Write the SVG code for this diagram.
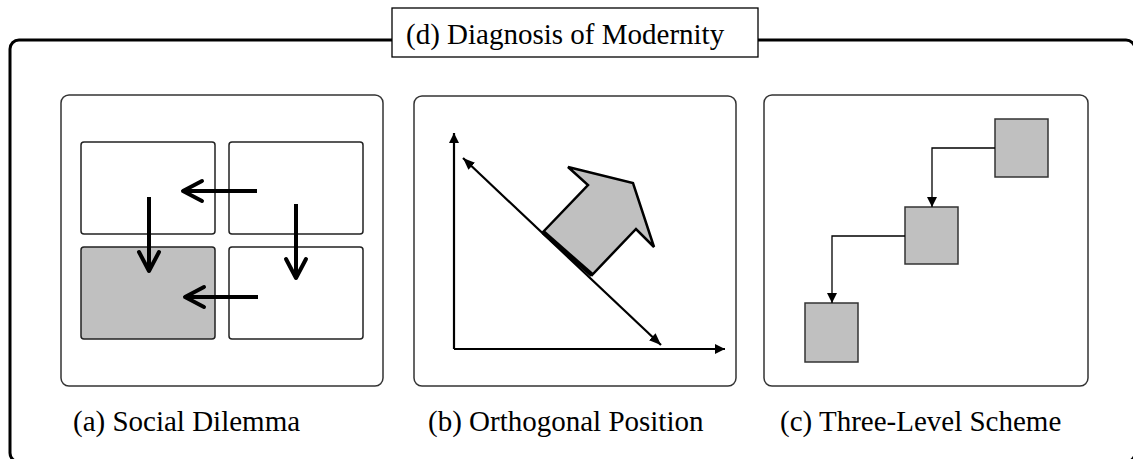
<svg xmlns="http://www.w3.org/2000/svg" width="1133" height="459" viewBox="0 0 1133 459">
<style>
.panel{fill:#fff;stroke:#333;stroke-width:1.5}
.cell{fill:#fff;stroke:#222;stroke-width:1.5}
.gray{fill:#c0c0c0}
.thick{stroke:#000;stroke-width:4;fill:none}
.chev{stroke:#000;stroke-width:4;fill:none;stroke-linecap:round;stroke-linejoin:round}
.ax{stroke:#000;stroke-width:2.2;fill:none}
.conn{stroke:#000;stroke-width:1.3;fill:none}
.sq{fill:#c0c0c0;stroke:#333;stroke-width:1.5}
.lbl{font-family:"Liberation Serif","Times New Roman",serif;fill:#000;font-size:29px}
</style>
<defs>
<marker id="tri" viewBox="0 0 10 10" refX="10" refY="5" markerWidth="10" markerHeight="10" markerUnits="userSpaceOnUse" orient="auto">
<path d="M0,0 L10,5 L0,10 Z" fill="#000"/>
</marker>
<marker id="tri2" viewBox="0 0 10 10" refX="10" refY="5" markerWidth="12" markerHeight="12" markerUnits="userSpaceOnUse" orient="auto-start-reverse">
<path d="M0,1 L10,5 L0,9 Z" fill="#000"/>
</marker>
</defs>
<g id="frame">
<rect x="10" y="40" width="1125" height="422" rx="9" fill="none" stroke="#000" stroke-width="3"/>
<rect x="392" y="8" width="366" height="49" fill="#fff" stroke="#000" stroke-width="1.3"/>
<text class="lbl" x="406" y="44">(d) Diagnosis of Modernity</text>
</g>
<g id="panel-a">
<rect class="panel" x="61" y="95" width="322" height="291" rx="8"/>
<rect class="cell" x="81" y="142" width="134" height="92" rx="3"/>
<rect class="cell" x="229" y="142" width="134" height="92" rx="3"/>
<rect class="cell gray" x="81" y="247" width="134" height="92" rx="3"/>
<rect class="cell" x="229" y="247" width="134" height="92" rx="3"/>
<text class="lbl" x="73" y="431">(a) Social Dilemma</text>
</g>
<g id="panel-b">
<rect class="panel" x="414" y="96" width="322" height="290" rx="8"/>
<polygon points="543,232 588,185 568,167 633,183 654,247 636,229 592,275" fill="#c0c0c0" stroke="#000" stroke-width="2.5" stroke-linejoin="miter"/>
<text class="lbl" x="428" y="431">(b) Orthogonal Position</text>
</g>
<g id="panel-c">
<rect class="panel" x="764" y="95" width="324" height="291" rx="8"/>
<g id="level-1"><rect class="sq" x="995" y="119" width="53" height="58"/></g>
<g id="level-2"><rect class="sq" x="905" y="207" width="53" height="57"/></g>
<g id="level-3"><rect class="sq" x="805" y="303" width="53" height="59"/></g>
<text class="lbl" x="780" y="431">(c) Three-Level Scheme</text>
</g>
<g id="connectors">
<line class="thick" x1="257" y1="191" x2="183" y2="191"/>
<polyline class="chev" points="202,181 183,191 202,201"/>
<line class="thick" x1="258" y1="297" x2="185" y2="297"/>
<polyline class="chev" points="204,287 185,297 204,307"/>
<line class="thick" x1="149" y1="197" x2="149" y2="271"/>
<polyline class="chev" points="139,252 149,271 159,252"/>
<line class="thick" x1="296" y1="204" x2="296" y2="278"/>
<polyline class="chev" points="286,259 296,278 306,259"/>
<line class="ax" x1="454" y1="349" x2="454" y2="133" marker-end="url(#tri)"/>
<line class="ax" x1="454" y1="349" x2="725" y2="349" marker-end="url(#tri)"/>
<line class="ax" x1="463" y1="158" x2="661" y2="345" marker-start="url(#tri2)" marker-end="url(#tri2)"/>
<line x1="543" y1="232" x2="592" y2="275" stroke="#000" stroke-width="4.5"/>
<polyline class="conn" points="995,148 932,148 932,207" marker-end="url(#tri)"/>
<polyline class="conn" points="905,236 832,236 832,303" marker-end="url(#tri)"/>
</g>
</svg>
